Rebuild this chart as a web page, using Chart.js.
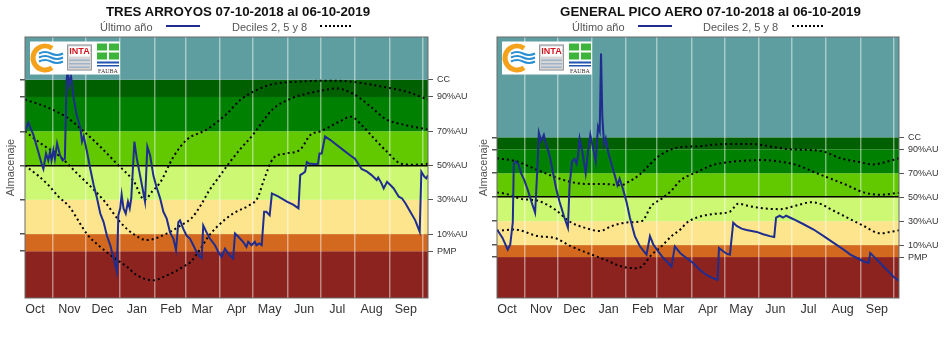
<!DOCTYPE html>
<html lang="es">
<head>
<meta charset="utf-8">
<title>Almacenaje - Tres Arroyos / General Pico Aero</title>
<script src="https://cdn.jsdelivr.net/npm/chart.js@4.4.1/dist/chart.umd.min.js"></script>
<style>
    body { margin: 0; width: 945px; height: 338px; background: #fff; position: relative; overflow: hidden;
           font-family: "Liberation Sans", Arial, sans-serif; }
    .panel { position: absolute; top: 0; height: 338px; }
    .panel canvas { position: absolute; left: 0; top: 0; }
    .titulo { position: absolute; top: 5px; font-weight: bold; font-size: 13.3px; line-height: 13.3px;
              color: #111; white-space: nowrap; transform: translateX(-50%); }
    .ley { position: absolute; top: 22px; font-size: 11px; line-height: 11px; color: #555; white-space: nowrap; }
    .muestra { position: absolute; top: 25px; height: 0; }
    .muestra.azul { border-top: 2px solid #1f2d8f; }
    .muestra.dec { border-top: 2px dotted #000; }
</style>
</head>
<body>
<div class="panel" style="left:0;width:470px">
    <canvas id="grafico-ta" width="470" height="338"></canvas>
    <div class="titulo" style="left:238px">TRES ARROYOS 07-10-2018 al 06-10-2019</div>
    <span class="ley" style="left:100px">Último año</span>
    <span class="muestra azul" style="left:166px;width:34px"></span>
    <span class="ley" style="left:232px">Deciles 2, 5 y 8</span>
    <span class="muestra dec" style="left:320px;width:31px"></span>
</div>
<div class="panel" style="left:470px;width:475px">
    <canvas id="grafico-gp" width="475" height="338"></canvas>
    <div class="titulo" style="left:240.5px">GENERAL PICO AERO 07-10-2018 al 06-10-2019</div>
    <span class="ley" style="left:102px">Último año</span>
    <span class="muestra azul" style="left:168px;width:34px"></span>
    <span class="ley" style="left:233px">Deciles 2, 5 y 8</span>
    <span class="muestra dec" style="left:322px;width:31px"></span>
</div>
<script>
// eje x: dias desde el 07-10-2018
const monthLabels = ['Oct', 'Nov', 'Dec', 'Jan', 'Feb', 'Mar', 'Apr', 'May', 'Jun', 'Jul', 'Aug', 'Sep'];
const monthMidDays = [9, 40, 70, 101, 132, 160, 191, 221, 252, 282, 313, 344];
const monthStartDays = [25, 55, 86, 117, 145, 176, 206, 237, 267, 298, 329, 359];

// niveles de agua util (PMP = 0, CC = 100)
const levelValues = [0, 10, 30, 50, 70, 90, 100];
const levelLabels = ['PMP', '10%AU', '30%AU', '50%AU', '70%AU', '90%AU', 'CC'];
const bandEdges = [-100, 0, 10, 30, 50, 70, 90, 100, 300];
const bandColors = ['#8c231e', '#d2691e', '#fde58e', '#cdf874', '#62c800', '#008000', '#006000', '#5f9ea0'];

// Tres Arroyos
const taUltimoDias = [0,3,7.5,12,15,16.6,19,21,22.6,24, 25.6,27,29,31.6,34,36,37.6,38.6,40,41.6,
    44,46.7,50,51.5,53,56,59,62,65,68, 71,74,77,80,83,84.3,86,87.3,89,91,
    93,94.6,96,98.8,101,104,108.4,110.5,113,116, 119,122,125,128,131,134,136.4,138.5,140,143,
    146,149,152,155,158,159.6,161,164,167,171.6, 174.6,177.6,180.7,183.7,188,189.7,192.7,197,200,201.6,
    204.6,207.6,209,211.7,213.8,216,218,221,223,229, 236.6,242.6,247,248.6,251,253,254.6,257,259,262,
    264.6,266,268,271,275.6,281.6,287.6,293.6,298,301, 304,309,313,317.7,319,322,324,327,330,333,
    337.6,340.6,343.6,348,352.5,356.5,358,360.7,362.5,364];
const taUltimoValores = [70,75,68,58,51,48,57,53,58,53, 59,54,63,56,53,54,100,106,97,102,
    89,79.5,72,64,67,58,48,38.6,31,22, 17,9,3.5,-4,-12,21,25,33,25,22,
    29,25,31,64,54,44,29,61,56,44, 37,31,23,19,11,7.4,0.6,17,18,13,
    9,7.4,3.5,-0.4,-3.3,-4,15,11,7.4,3.5, -0.4,-3.3,1.5,-1.5,-4.3,10.3,8.4,5.5,2.5,5.5,
    3.5,5.5,3.5,4.5,3.5,23,23,21,33.7,31.8, 29,27,25,44.4,45.4,46.4,52,51,51,50.7,
    51,57,57,67,65,62,59,56,54,51, 48,46.4,44.4,41.5,43,39.6,36.6,40.5,38.6,36.6,
    31.8,30.8,28,23,18,11.3,46.4,43.5,42.5,44.4];
const taD8Dias = [0,20,38,53,68,83,98,108,115,122,134,146,164,182,194,209,224,248,278,294,310,323,345,364];
const taD8Valores = [88.5,84,78,70,61,51,41,30,35,40,55,65,71,80,88,94,97.5,99,99.5,99,97.5,96,93,88.5];
const taD5Dias = [0,14,32,47,62,72,86,98,110,128,143,150,158,166,176,185,195,206,215,224,240,255,270,281,296,311,326,341,364];
const taD5Valores = [70,63,55,45.4,36,29,17,10,6.5,10.3,16,19,26,35,44,52,60,68,76,83,89,92,94,95,92,85,77,74,71];
const taD2Dias = [0,12,22,30,40,48,56,68,83,92,101,116,125,135,143,150,158,165,173,188,203,210,216,224,235,248,258,267,285,294,305,315,327,340,352,364];
const taD2Valores = [50,44,38,32,26,18,10,2.5,-5,-9,-14,-17,-15,-12,-9,-6,1,8,14,22,27,31,42,54,57,59,68,70,76,78.5,73,66,58,51,50.5,51];

// General Pico Aero
const gpUltimoDias = [0,5,9.7,12,14.3,15.2,17,19.7,21.8,24.8, 27.9,30.9,34.5,36.4,37.9,40,42.4,44.5,47.6,50.6,
    53.6,56.7,61,64.2,65.7,68,70.3,72,73.3,74.8, 77.3,80.3,82.4,84.5,87,89.4,91.5,93,94.2,95.4,
    97,98.5,100.6,103.6,106.7,109,111,114,117.3,120.3, 124.8,129.4,135.4,138.5,141.5,146,150.6,155,158,161,
    165.8,171.5,177.6,183.6,189.7,195.8,199.7,201,204.8,207.9, 210.9,213.9,217,221.5,226,230.6,235.2,241,247,251,
    252.7,256,259,261.8,268.5,277.6,286.7,295.8,304.8,313.9, 320,326,332,336.5,338,341,347,353,359,364];
const gpUltimoValores = [23,16,6.2,10.5,29,78,80,77,70,64, 56,47,37,71,104,97,102,94,85,71,
    57,46,33,24.6,60,80,82,78,84,99, 88,70,88,102,91,80,109,105,170,116,
    94,99,88,78,68,60,65.5,57,46,33, 17.5,9,2,17.5,10.5,4.8,-0.8,-5,-8,9,
    3.4,-0.8,-5,-10.7,-15,-17.8,-19,7.6,4.8,2.8, 2,28.8,26,23.7,22.6,21.8,21,19,17.5,16.7,
    33,34.5,33,34.5,31.6,27.4,23,17.5,11.9,6.2, 2,-0.8,-3.7,-5,3.4,0.6,-5,-10.7,-16.4,-19.8];
const gpD8Dias = [0,17,37,52,67,82,97,112,119,128,137,146,158,168,181,196,211,232,250,265,281,296,311,326,341,353,364];
const gpD8Valores = [82.5,80,72.6,67,62.7,61,61,60,62.7,68,76,84,90,92,92.4,93.8,94.5,94.4,92,90,89.5,88,82.5,79.7,77.4,79.7,82.5];
const gpD5Dias = [0,7,22,37,52,67,79,93,104,119,131,140,149,158,166,181,196,214,241,256,271,287,302,317,332,347,364];
const gpD5Valores = [54,53,48.6,47,40,29,24.6,21.8,26,29,30,43,48.6,55.6,64,71,77,79.7,81,79.7,77,71,65.5,60,54,52,53.7];
const gpD2Dias = [0,16,37,52,67,82,98,113,125,131,140,149,158,166,172,181,196,211,218.5,226,241,256,271,284,293,302,317,332,347,356,364];
const gpD2Valores = [21.8,23,17.5,16,9,3.4,-2.3,-7.9,-9.3,-7.9,2,9,17.5,23,28.8,33,36,38,44.6,43,40.7,40,43,45.8,44.4,40,33,26,19.8,21,22.3];

Chart.defaults.font.family = '"Liberation Sans", Arial, sans-serif';

function puntos(dias, valores) {
    return dias.map((d, i) => ({ x: d, y: valores[i] }));
}

// franjas de color segun nivel de agua util
const bandsPlugin = {
    id: 'bands',
    beforeDraw(chart) {
        const { ctx, chartArea: a, scales: { y } } = chart;
        ctx.save();
        for (let i = 0; i < bandColors.length; i++) {
            const top = Math.max(y.getPixelForValue(bandEdges[i + 1]), a.top);
            const bot = Math.min(y.getPixelForValue(bandEdges[i]), a.bottom);
            if (bot <= top) continue;
            ctx.fillStyle = bandColors[i];
            ctx.fillRect(a.left, top, a.right - a.left, bot - top);
        }
        ctx.restore();
    }
};

// logos INTA / FAUBA (aproximados)
const logoPlugin = {
    id: 'logos',
    afterDatasetsDraw(chart) {
        const { ctx, chartArea: a } = chart;
        const x = a.left + 5, y = a.top + 4.5;
        ctx.save();
        ctx.fillStyle = '#fff';
        ctx.fillRect(x, y, 90, 33);
        ctx.strokeStyle = '#f4a21c';
        ctx.lineWidth = 5;
        ctx.beginPath();
        ctx.arc(x + 15, y + 16.5, 12, 0.3 * Math.PI, 1.7 * Math.PI);
        ctx.stroke();
        ctx.strokeStyle = '#2a8fd0';
        ctx.lineWidth = 2;
        for (let k = 0; k < 3; k++) {
            const yy = y + 12 + k * 4;
            ctx.beginPath();
            ctx.moveTo(x + 9, yy);
            ctx.quadraticCurveTo(x + 15, yy - 3, x + 21, yy);
            ctx.quadraticCurveTo(x + 27, yy + 3, x + 33, yy);
            ctx.stroke();
        }
        ctx.fillStyle = '#d6d6d6';
        ctx.fillRect(x + 37, y + 3, 25, 26);
        ctx.strokeStyle = '#999';
        ctx.lineWidth = 1;
        ctx.strokeRect(x + 37.5, y + 3.5, 24, 25);
        ctx.fillStyle = '#fff';
        ctx.fillRect(x + 39, y + 5, 21, 10);
        ctx.fillStyle = '#d3141c';
        ctx.font = 'bold 9px "Liberation Sans Narrow", "Liberation Sans", Arial';
        ctx.textAlign = 'center';
        ctx.textBaseline = 'middle';
        ctx.fillText('INTA', x + 49.5, y + 10.5);
        ctx.fillStyle = '#9fb4c8';
        for (let k = 0; k < 3; k++) ctx.fillRect(x + 39, y + 18 + k * 3.5, 21, 1.5);
        ctx.fillStyle = '#3db53d';
        ctx.fillRect(x + 67, y + 2, 10, 7);
        ctx.fillRect(x + 79, y + 2, 10, 7);
        ctx.fillRect(x + 67, y + 11, 10, 7);
        ctx.fillRect(x + 79, y + 11, 10, 7);
        ctx.fillStyle = '#1f55b0';
        ctx.fillRect(x + 67, y + 20, 22, 2);
        ctx.fillRect(x + 67, y + 23.5, 22, 1.5);
        ctx.fillStyle = '#333';
        ctx.font = '6px "Liberation Serif", serif';
        ctx.fillText('FAUBA', x + 78, y + 29.5);
        ctx.restore();
    }
};

// marco del area de grafico
const framePlugin = {
    id: 'frame',
    afterDraw(chart) {
        const { ctx, chartArea: a } = chart;
        ctx.save();
        ctx.strokeStyle = '#6a6a6a';
        ctx.lineWidth = 1;
        ctx.strokeRect(a.left, a.top, a.right - a.left, a.bottom - a.top);
        ctx.restore();
    }
};

function decil(label, data) {
    return {
        label: label,
        data: data,
        xAxisID: 'x',
        yAxisID: 'y',
        borderColor: '#000',
        borderWidth: 2,
        borderDash: [2, 3],
        pointRadius: 0,
        cubicInterpolationMode: 'monotone'
    };
}

function crearGrafico(id, s) {
    const nivelTicks = scale => { scale.ticks = levelValues.map(v => ({ value: v })); };
    return new Chart(document.getElementById(id), {
        type: 'line',
        data: {
            datasets: [{
                label: 'Último año',
                data: s.ultimo,
                xAxisID: 'x',
                yAxisID: 'y',
                borderColor: '#1f2d8f',
                borderWidth: 2,
                pointRadius: 0,
                tension: 0
            },
            decil('Decil 2', s.d2),
            decil('Decil 5', s.d5),
            decil('Decil 8', s.d8)]
        },
        options: {
            responsive: false,
            animation: false,
            events: [],
            layout: { padding: { top: 37 } },
            plugins: {
                legend: { display: false },
                tooltip: { enabled: false }
            },
            scales: {
                x: {
                    type: 'linear',
                    min: 0,
                    max: 364,
                    afterBuildTicks: scale => { scale.ticks = monthMidDays.map(v => ({ value: v })); },
                    ticks: {
                        callback: (v, i) => monthLabels[i],
                        color: '#333',
                        font: { size: 12.5 },
                        padding: -4,
                        autoSkip: false,
                        maxRotation: 0
                    },
                    grid: { display: false },
                    border: { display: false },
                    afterFit: scale => { scale.height = 40; }
                },
                xg: {
                    type: 'linear',
                    position: 'bottom',
                    min: 0,
                    max: 364,
                    afterBuildTicks: scale => { scale.ticks = monthStartDays.map(v => ({ value: v })); },
                    ticks: { display: false },
                    grid: { color: 'rgba(255,255,255,0.45)', lineWidth: 1.5, drawTicks: false },
                    border: { display: false },
                    afterFit: scale => { scale.height = 0; }
                },
                y: {
                    type: 'linear',
                    position: 'left',
                    min: s.yMin,
                    max: s.yMax,
                    afterBuildTicks: nivelTicks,
                    ticks: { display: false },
                    grid: {
                        color: c => (c.tick && c.tick.value === 50) ? '#000' : 'rgba(0,0,0,0)',
                        lineWidth: 1.5,
                        tickColor: '#555',
                        tickLength: 5
                    },
                    border: { display: false },
                    title: {
                        display: true,
                        text: 'Almacenaje',
                        color: '#555',
                        font: { size: 11 },
                        padding: { top: s.titlePad, bottom: 0 }
                    },
                    afterFit: scale => { scale.width = s.leftW; }
                },
                y2: {
                    type: 'linear',
                    position: 'right',
                    min: s.yMin,
                    max: s.yMax,
                    afterBuildTicks: nivelTicks,
                    ticks: {
                        callback: (v, i) => levelLabels[i],
                        color: '#333',
                        font: { size: 9 },
                        padding: 4,
                        autoSkip: false
                    },
                    grid: { drawOnChartArea: false, tickColor: '#555', tickLength: 5 },
                    border: { display: false },
                    afterFit: scale => { scale.width = s.rightW; }
                }
            }
        },
        plugins: [bandsPlugin, logoPlugin, framePlugin]
    });
}

crearGrafico('grafico-ta', {
    ultimo: puntos(taUltimoDias, taUltimoValores),
    d2: puntos(taD2Dias, taD2Valores),
    d5: puntos(taD5Dias, taD5Valores),
    d8: puntos(taD8Dias, taD8Valores),
    yMin: -27.3, yMax: 125,
    leftW: 25, rightW: 42, titlePad: 4
});

crearGrafico('grafico-gp', {
    ultimo: puntos(gpUltimoDias, gpUltimoValores),
    d2: puntos(gpD2Dias, gpD2Valores),
    d5: puntos(gpD5Dias, gpD5Valores),
    d8: puntos(gpD8Dias, gpD8Valores),
    yMin: -34.2, yMax: 183.8,
    leftW: 27, rightW: 46, titlePad: 7
});
</script>
</body>
</html>
